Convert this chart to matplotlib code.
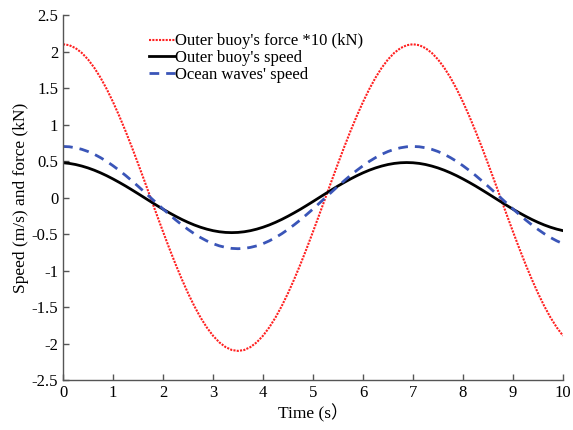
import numpy as np
import matplotlib
matplotlib.use("Agg")
import matplotlib.pyplot as plt

plt.rcParams['font.family'] = ['Liberation Serif', 'Noto Sans CJK SC']

# Time samples (s)
time_s = [0.000, 0.125, 0.250, 0.375, 0.500, 0.625, 0.750, 0.875,
          1.000, 1.125, 1.250, 1.375, 1.500, 1.625, 1.750, 1.875,
          2.000, 2.125, 2.250, 2.375, 2.500, 2.625, 2.750, 2.875,
          3.000, 3.125, 3.250, 3.375, 3.500, 3.625, 3.750, 3.875,
          4.000, 4.125, 4.250, 4.375, 4.500, 4.625, 4.750, 4.875,
          5.000, 5.125, 5.250, 5.375, 5.500, 5.625, 5.750, 5.875,
          6.000, 6.125, 6.250, 6.375, 6.500, 6.625, 6.750, 6.875,
          7.000, 7.125, 7.250, 7.375, 7.500, 7.625, 7.750, 7.875,
          8.000, 8.125, 8.250, 8.375, 8.500, 8.625, 8.750, 8.875,
          9.000, 9.125, 9.250, 9.375, 9.500, 9.625, 9.750, 9.875,
          10.000]

# Outer buoy force x10 (kN)
buoy_force_x10 = [2.100, 2.087, 2.047, 1.982, 1.892, 1.778, 1.642, 1.485,
                  1.309, 1.117, 0.911, 0.694, 0.467, 0.235, 0.000, -0.235,
                  -0.467, -0.694, -0.911, -1.117, -1.309, -1.485, -1.642, -1.778,
                  -1.892, -1.982, -2.047, -2.087, -2.100, -2.087, -2.047, -1.982,
                  -1.892, -1.778, -1.642, -1.485, -1.309, -1.117, -0.911, -0.694,
                  -0.467, -0.235, 0.000, 0.235, 0.467, 0.694, 0.911, 1.117,
                  1.309, 1.485, 1.642, 1.778, 1.892, 1.982, 2.047, 2.087,
                  2.100, 2.087, 2.047, 1.982, 1.892, 1.778, 1.642, 1.485,
                  1.309, 1.117, 0.911, 0.694, 0.467, 0.235, 0.000, -0.235,
                  -0.467, -0.694, -0.911, -1.117, -1.309, -1.485, -1.642, -1.778,
                  -1.892]

# Outer buoy speed (m/s)
buoy_speed = [0.477, 0.468, 0.453, 0.432, 0.406, 0.375, 0.339, 0.299,
              0.255, 0.208, 0.159, 0.107, 0.054, 0.000, -0.054, -0.107,
              -0.159, -0.208, -0.255, -0.299, -0.339, -0.375, -0.406, -0.432,
              -0.453, -0.468, -0.477, -0.480, -0.477, -0.468, -0.453, -0.432,
              -0.406, -0.375, -0.339, -0.299, -0.255, -0.208, -0.159, -0.107,
              -0.054, 0.000, 0.054, 0.107, 0.159, 0.208, 0.255, 0.299,
              0.339, 0.375, 0.406, 0.432, 0.453, 0.468, 0.477, 0.480,
              0.477, 0.468, 0.453, 0.432, 0.406, 0.375, 0.339, 0.299,
              0.255, 0.208, 0.159, 0.107, 0.054, 0.000, -0.054, -0.107,
              -0.159, -0.208, -0.255, -0.299, -0.339, -0.375, -0.406, -0.432,
              -0.453]

# Ocean wave speed (m/s)
wave_speed = [0.700, 0.696, 0.682, 0.661, 0.631, 0.593, 0.547, 0.495,
              0.436, 0.372, 0.304, 0.231, 0.156, 0.078, 0.000, -0.078,
              -0.156, -0.231, -0.304, -0.372, -0.436, -0.495, -0.547, -0.593,
              -0.631, -0.661, -0.682, -0.696, -0.700, -0.696, -0.682, -0.661,
              -0.631, -0.593, -0.547, -0.495, -0.436, -0.372, -0.304, -0.231,
              -0.156, -0.078, 0.000, 0.078, 0.156, 0.231, 0.304, 0.372,
              0.436, 0.495, 0.547, 0.593, 0.631, 0.661, 0.682, 0.696,
              0.700, 0.696, 0.682, 0.661, 0.631, 0.593, 0.547, 0.495,
              0.436, 0.372, 0.304, 0.231, 0.156, 0.078, 0.000, -0.078,
              -0.156, -0.231, -0.304, -0.372, -0.436, -0.495, -0.547, -0.593,
              -0.631]

labels = ["Outer buoy's force *10 (kN)", "Outer buoy's speed", "Ocean waves' speed"]
y_ticks = [-2.5, -2, -1.5, -1, -0.5, 0, 0.5, 1, 1.5, 2, 2.5]
y_tick_labels = ['-2.5', '-2', '-1.5', '-1', '-0.5', '0', '0.5', '1', '1.5', '2', '2.5']
x_ticks = [0, 1, 2, 3, 4, 5, 6, 7, 8, 9, 10]

fig = plt.figure(figsize=(5.73, 4.30), dpi=100)
ax = fig.add_axes([0.110, 0.116, 0.8725, 0.849])

ax.plot(time_s, buoy_force_x10, color='#ff2020', linestyle=(0, (1, 0.6)), lw=1.5, label=labels[0])
ax.plot(time_s, buoy_speed, color='black', linestyle='-', lw=2.0, label=labels[1])
ax.plot(time_s, wave_speed, color='#3a55b8', linestyle=(0, (3.5, 2.5)), lw=2.0, label=labels[2])

ax.set_xlim(0, 10)
ax.set_ylim(-2.5, 2.5)
ax.set_xticks(x_ticks)
ax.set_yticks(y_ticks)
ax.set_yticklabels(y_tick_labels)

for side in ('top', 'right'):
    ax.spines[side].set_visible(False)
for side in ('left', 'bottom'):
    ax.spines[side].set_color('#555555')
    ax.spines[side].set_linewidth(1.0)

ax.tick_params(direction='in', length=4, width=1.0, colors='#555555',
               labelcolor='black', labelsize=12)

ax.set_xlabel('Time (s）', fontsize=12.5, labelpad=2)
ax.set_ylabel('Speed (m/s) and force (kN)', fontsize=12.5, labelpad=2)

ax.legend(loc='upper left', bbox_to_anchor=(0.158, 0.968), frameon=False,
          fontsize=12, handlelength=1.6, handletextpad=0.0,
          labelspacing=0.05, borderaxespad=0)

fig.savefig('out.png', dpi=100)
